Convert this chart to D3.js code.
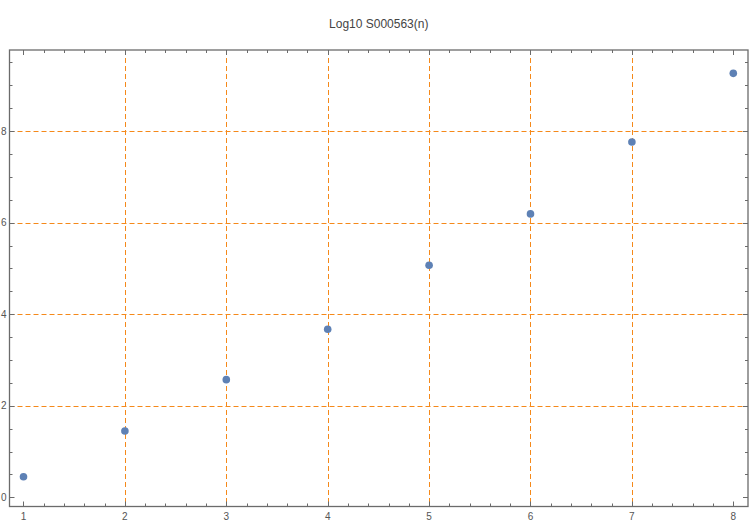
<!DOCTYPE html>
<html>
<head>
<meta charset="utf-8">
<script src="https://cdn.jsdelivr.net/npm/d3@7"></script>
<style>
  body { margin: 0; background: #fff; }
  svg { display: block; }
</style>
</head>
<body>
<div id="chart"></div>
<script>
const nValues = [1, 2, 3, 4, 5, 6, 7, 8];
const logValues = [0.45, 1.45, 2.57, 3.67, 5.07, 6.19, 7.76, 9.26];
const xTicks = [1, 2, 3, 4, 5, 6, 7, 8];
const yTicks = [0, 2, 4, 6, 8];
const xGrid = [2, 3, 4, 5, 6, 7];
const yGrid = [2, 4, 6, 8];
const title = "Log10 S000563(n)";

const width = 750, height = 525;
const frame = { left: 9.5, right: 748, top: 50, bottom: 506.5 };
const fontFamily = "'Liberation Sans', Arial, sans-serif";
const frameColor = "#6b6b6b";
const gridColor = "#f5891a";
const pointColor = "#5e81b5";

const svg = d3.select("#chart").append("svg")
  .attr("width", width)
  .attr("height", height);

const x = d3.scaleLinear().domain([0.862, 8.145]).range([frame.left, frame.right]);
const y = d3.scaleLinear().domain([-0.2, 9.77]).range([frame.bottom, frame.top]);

// grid, snapped to half pixels so the dashes stay crisp
svg.append("g").selectAll("line")
  .data(xGrid)
  .enter().append("line")
  .attr("x1", d => Math.round(x(d)) + 0.5).attr("x2", d => Math.round(x(d)) + 0.5)
  .attr("y1", frame.top).attr("y2", frame.bottom)
  .attr("stroke", gridColor)
  .attr("stroke-width", 1)
  .attr("stroke-dasharray", "5,3");

svg.append("g").selectAll("line")
  .data(yGrid)
  .enter().append("line")
  .attr("x1", frame.left).attr("x2", frame.right)
  .attr("y1", d => Math.round(y(d)) + 0.5).attr("y2", d => Math.round(y(d)) + 0.5)
  .attr("stroke", gridColor)
  .attr("stroke-width", 1)
  .attr("stroke-dasharray", "5,3");

// minor ticks
const xMinor = d3.range(0.8, 8.2001, 0.2).filter(v => v >= x.domain()[0] && v <= x.domain()[1]);
const yMinor = d3.range(-0.5, 10.001, 0.5).filter(v => v >= y.domain()[0] && v <= y.domain()[1]);

const ticks = svg.append("g")
  .attr("stroke", frameColor)
  .attr("stroke-width", 1);

function tickLen(v, step) {
  return Math.abs(v / step - Math.round(v / step)) < 1e-6 ? 5 : 3;
}

xMinor.forEach(v => {
  const len = tickLen(v, 1);
  const px = Math.round(x(v)) + 0.5;
  ticks.append("line").attr("x1", px).attr("x2", px)
    .attr("y1", frame.bottom).attr("y2", frame.bottom - len);
  ticks.append("line").attr("x1", px).attr("x2", px)
    .attr("y1", frame.top).attr("y2", frame.top + len);
});

yMinor.forEach(v => {
  const len = tickLen(v, 2);
  const py = Math.round(y(v)) + 0.5;
  ticks.append("line").attr("y1", py).attr("y2", py)
    .attr("x1", frame.left).attr("x2", frame.left + len);
  ticks.append("line").attr("y1", py).attr("y2", py)
    .attr("x1", frame.right).attr("x2", frame.right - len);
});

// frame
svg.append("rect")
  .attr("x", frame.left)
  .attr("y", frame.top)
  .attr("width", frame.right - frame.left)
  .attr("height", frame.bottom - frame.top)
  .attr("fill", "none")
  .attr("stroke", frameColor)
  .attr("stroke-width", 1.3);

// tick labels
svg.append("g").selectAll("text")
  .data(xTicks)
  .enter().append("text")
  .attr("x", d => x(d))
  .attr("y", frame.bottom + 13)
  .attr("text-anchor", "middle")
  .style("font-family", fontFamily)
  .style("font-size", "10px")
  .style("fill", "#555")
  .text(d => d);

svg.append("g").selectAll("text")
  .data(yTicks)
  .enter().append("text")
  .attr("x", frame.left - 3)
  .attr("y", d => y(d))
  .attr("dy", "0.35em")
  .attr("text-anchor", "end")
  .style("font-family", fontFamily)
  .style("font-size", "10px")
  .style("fill", "#555")
  .text(d => d);

// points
svg.append("g").selectAll("circle")
  .data(nValues.map((n, i) => ({ n, v: logValues[i] })))
  .enter().append("circle")
  .attr("cx", d => x(d.n))
  .attr("cy", d => y(d.v))
  .attr("r", 3.8)
  .attr("fill", pointColor);

// title
svg.append("text")
  .attr("x", (frame.left + frame.right) / 2)
  .attr("y", 28)
  .attr("text-anchor", "middle")
  .style("font-family", fontFamily)
  .style("font-size", "12px")
  .style("fill", "#444")
  .text(title);
</script>
</body>
</html>
